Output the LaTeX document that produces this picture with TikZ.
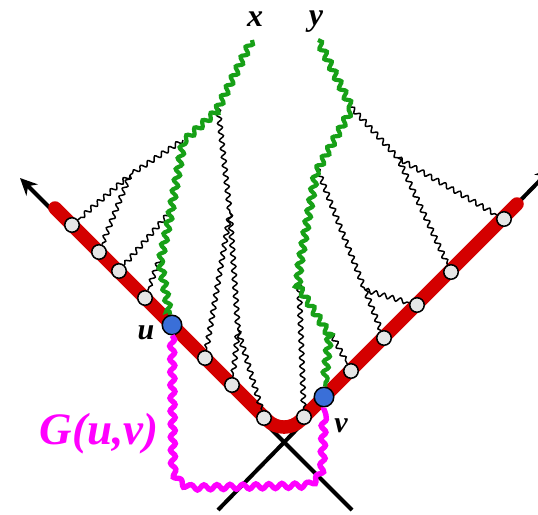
\documentclass[tikz,border=0pt]{standalone}
\usepackage{fontspec}
\setmainfont{Liberation Serif}
\usetikzlibrary{arrows.meta,decorations.pathmorphing}

\definecolor{ridgered}{HTML}{D40000}
\definecolor{wavegreen}{HTML}{17A017}
\definecolor{loopmagenta}{HTML}{FF00FF}
\definecolor{endblue}{HTML}{3A6FD8}
\definecolor{dotgray}{HTML}{E6E6E6}

\begin{document}
\begin{tikzpicture}[
  x=1pt, y=-1pt,
  >=Stealth,
  axis line/.style  = {draw=black, line width=4pt},
  ridge/.style      = {draw=ridgered, line width=13.5pt, line cap=round, rounded corners=24pt},
  thin wave/.style  = {draw=black, line width=1.5pt, decorate,
                       decoration={snake, amplitude=2.3pt, segment length=8.5pt}},
  green wave/.style = {draw=wavegreen, line width=4.2pt, decorate,
                       decoration={snake, amplitude=2.8pt, segment length=11pt}},
  loop wave/.style  = {draw=loopmagenta, line width=5.4pt, decorate,
                       decoration={snake, amplitude=2.5pt, segment length=13pt}},
  vertex/.style     = {circle, draw=black, line width=1.5pt, fill=dotgray,
                       minimum size=14.5pt, inner sep=0pt},
  end vertex/.style = {vertex, fill=endblue, minimum size=19.5pt},
  lab/.style        = {inner sep=0pt, anchor=base, font=\fontsize{32}{36}\selectfont\bfseries\itshape},
]

% ── Frame (pixel units, y pointing down) ───────────────────────────────────
\useasboundingbox (0,0) rectangle (538,514);
\clip (0,0) rectangle (538,514);

% ── Crossing axes ──────────────────────────────────────────────────────────
\coordinate (lb) at (352,510);
\coordinate (lt) at (20,178);
\coordinate (rb) at (218,510);
\coordinate (rt) at (552,168);

\draw[axis line, -{Stealth[length=17pt, width=16pt]}] (lb) -- (lt);
\draw[axis line, -{Stealth[length=17pt, width=16pt]}] (rb) -- (rt);

% ── Red ridge ──────────────────────────────────────────────────────────────
\coordinate (rs) at (55,208);
\coordinate (rc) at (284,437);
\coordinate (re) at (517,204);

\draw[ridge] (rs) -- (rc) -- (re);

% ── Points on the ridge ────────────────────────────────────────────────────
\foreach \n/\px/\py in {d1/72/225, d2/99/252, d3/119/271, d4/145/298,
                        d5/205/358, d6/232/385, d7/264/418,
                        d8/304/417, d9/351/371, d10/384/338, d11/417/305,
                        d12/451/272, d13/504/219}
  \node[vertex] (\n) at (\px,\py) {};

\node[end vertex] (u) at (172,325) {};
\node[end vertex] (v) at (324,397) {};

% ── Branch points ──────────────────────────────────────────────────────────
% tree hanging from x
\coordinate (xs) at (252,40);
\coordinate (A)  at (218,108);
\coordinate (B)  at (183,140);
\coordinate (C)  at (170,212);
\coordinate (D)  at (160,258);
\coordinate (E)  at (130,175);
\coordinate (F)  at (230,213);
\coordinate (G)  at (238,330);
% tree hanging from y
\coordinate (ys) at (318,40);
\coordinate (H)  at (351,107);
\coordinate (I)  at (317,168);
\coordinate (L)  at (301,258);
\coordinate (M)  at (299,283);
\coordinate (N)  at (331,333);
\coordinate (J)  at (398,158);
\coordinate (K)  at (365,290);

% ── Thin wavy branches ─────────────────────────────────────────────────────
\draw[thin wave] (B) -- (E);
\draw[thin wave] (E) -- (d1);
\draw[thin wave] (E) -- (d2);
\draw[thin wave] (C) -- (d3);
\draw[thin wave] (D) -- (d4);
\draw[thin wave] (A) -- (F);
\draw[thin wave] (F) -- (d5);
\draw[thin wave] (F) -- (G);
\draw[thin wave] (G) -- (d6);
\draw[thin wave] (G) -- (d7);

\draw[thin wave] (H) -- (J);
\draw[thin wave] (J) -- (d13);
\draw[thin wave] (J) -- (d12);
\draw[thin wave] (I) -- (K);
\draw[thin wave] (K) -- (d11);
\draw[thin wave] (K) -- (d10);
\draw[thin wave] (M) -- (d8);
\draw[thin wave] (N) -- (d9);

% ── Green paths x -> u and y -> v ──────────────────────────────────────────
\draw[green wave] (xs) -- (A) -- (B) -- (C) -- (D) -- (u);
\draw[green wave] (ys) -- (H) -- (I) -- (L) -- (M) -- (N) -- (v);

% ── Magenta path u -> v ────────────────────────────────────────────────────
% corners made with to[out,in] (rounded corners would bend the snake)
\coordinate (g1) at (173,462);
\coordinate (g2) at (195,484);
\coordinate (g3) at (302,482);
\coordinate (g4) at (322,460);

\draw[loop wave] (u) -- (g1) to[out=-90, in=180] (g2) -- (g3)
  to[out=0, in=-90] (g4) -- (v);

% ── Labels ─────────────────────────────────────────────────────────────────
\node[lab] (xlab) at (255,27) {x};
\node[lab] (ylab) at (316,25) {y};
\node[lab, font=\fontsize{30}{34}\selectfont\bfseries\itshape] (ulab) at (146,339) {u};
\node[lab, font=\fontsize{30}{34}\selectfont\bfseries\itshape] (vlab) at (341,432) {v};
\node[lab, text=loopmagenta, font=\fontsize{45}{50}\selectfont\bfseries\itshape]
  (glab) at (99,444) {G(u,v)};

\end{tikzpicture}
\end{document}
